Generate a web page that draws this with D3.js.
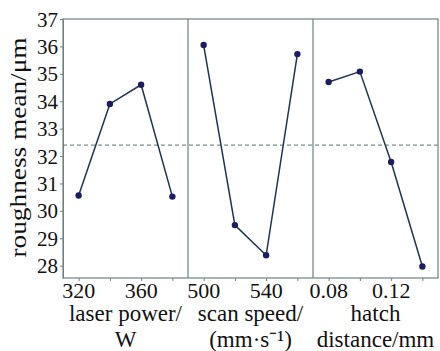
<!DOCTYPE html>
<html>
<head>
<meta charset="utf-8">
<script src="https://cdn.jsdelivr.net/npm/d3@7"></script>
<style>
  body { margin: 0; background: #fff; }
</style>
</head>
<body>
<div id="chart"></div>
<script>
// main effects data
const laserPower = [320, 340, 360, 380];
const laserMeans = [30.56, 33.9, 34.6, 30.52];
const scanSpeed = [500, 520, 540, 560];
const scanMeans = [36.05, 29.48, 28.38, 35.72];
const hatchDist = [0.08, 0.10, 0.12, 0.14];
const hatchMeans = [34.7, 35.08, 31.78, 27.97];
const grandMean = 32.4;
const yTicks = [28, 29, 30, 31, 32, 33, 34, 35, 36, 37];
const panelLabels = [["320", "360"], ["500", "540"], ["0.08", "0.12"]];
const panelTitles = [["laser power/", "W"], ["scan speed/", "(mm·s\u207B\u00B9)"], ["hatch", "distance/mm"]];

const width = 440, height = 351;
const margin = { top: 19, right: 2, bottom: 73, left: 63 };
const innerW = width - margin.left - margin.right;
const innerH = height - margin.top - margin.bottom;
const serif = 'Liberation Serif';

const svg = d3.select('#chart').append('svg')
  .attr('width', width).attr('height', height);
const g = svg.append('g')
  .attr('transform', 'translate(' + margin.left + ',' + margin.top + ')');

const y = d3.scaleLinear().domain([27.55, 37]).range([innerH, 0]);

const panels = [
  { x: laserPower, m: laserMeans },
  { x: scanSpeed, m: scanMeans },
  { x: hatchDist, m: hatchMeans }
];
const panelW = innerW / 3;
const frameColor = '#6f8080';

// frame
g.append('rect')
  .attr('x', 0).attr('y', 0).attr('width', innerW).attr('height', innerH)
  .attr('fill', 'none').attr('stroke', frameColor).attr('stroke-width', 1.2);

// grand mean
g.append('line')
  .attr('x1', 0).attr('x2', innerW)
  .attr('y1', y(grandMean)).attr('y2', y(grandMean))
  .attr('stroke', '#7d8c8c').attr('stroke-width', 1.3)
  .attr('stroke-dasharray', '4,3');

// y axis
const yAxis = g.append('g')
  .call(d3.axisLeft(y).tickValues(yTicks).tickSize(3).tickSizeOuter(0).tickPadding(2))
  .attr('font-family', serif).attr('font-size', 21);
yAxis.select('.domain').attr('stroke', frameColor);
yAxis.selectAll('line').attr('stroke', frameColor);
yAxis.selectAll('text')
  .attr('font-family', serif).attr('font-size', 21)
  .attr('fill', '#111').attr('dy', '0.34em');

svg.append('text')
  .attr('transform', 'translate(26,' + (margin.top + innerH / 2 - 1) + ') rotate(-90)')
  .attr('text-anchor', 'middle')
  .attr('font-family', serif).attr('font-size', 23)
  .attr('textLength', 220).attr('lengthAdjust', 'spacingAndGlyphs')
  .attr('fill', '#111')
  .text('roughness mean/\u03BCm');

panels.forEach((p, i) => {
  const x0 = i * panelW;
  const step = (p.x[1] - p.x[0]);
  const x = d3.scaleLinear()
    .domain([p.x[0] - step / 2, p.x[3] + step / 2])
    .range([x0, x0 + panelW]);

  if (i > 0) {
    g.append('line')
      .attr('x1', x0).attr('x2', x0).attr('y1', 0).attr('y2', innerH)
      .attr('stroke', frameColor).attr('stroke-width', 1.2);
  }

  const xAxis = g.append('g')
    .attr('transform', 'translate(0,' + innerH + ')')
    .call(d3.axisBottom(x).tickValues(p.x).tickSize(3).tickSizeOuter(0).tickFormat(''));
  xAxis.select('.domain').remove();
  xAxis.selectAll('line').attr('stroke', frameColor);

  g.selectAll('.lbl' + i)
    .data([p.x[0], p.x[2]])
    .enter().append('text')
    .attr('x', d => x(d))
    .attr('y', innerH + 20)
    .attr('text-anchor', 'middle')
    .attr('font-family', serif).attr('font-size', 22)
    .attr('fill', '#111')
    .text((d, j) => panelLabels[i][j]);

  panelTitles[i].forEach((t, j) => {
    g.append('text')
      .attr('x', x0 + panelW / 2)
      .attr('y', innerH + 43 + j * 26)
      .attr('text-anchor', 'middle')
      .attr('font-family', serif).attr('font-size', 23)
      .attr('fill', '#111')
      .text(t);
  });

  const pts = p.x.map((v, k) => [v, p.m[k]]);
  g.append('path')
    .datum(pts)
    .attr('fill', 'none')
    .attr('stroke', '#1d3550')
    .attr('stroke-width', 1.5)
    .attr('d', d3.line().x(d => x(d[0])).y(d => y(d[1])));

  g.selectAll('.pt' + i)
    .data(pts)
    .enter().append('circle')
    .attr('cx', d => x(d[0]))
    .attr('cy', d => y(d[1]))
    .attr('r', 3.2)
    .attr('fill', '#1c1c60');
});
</script>
</body>
</html>
